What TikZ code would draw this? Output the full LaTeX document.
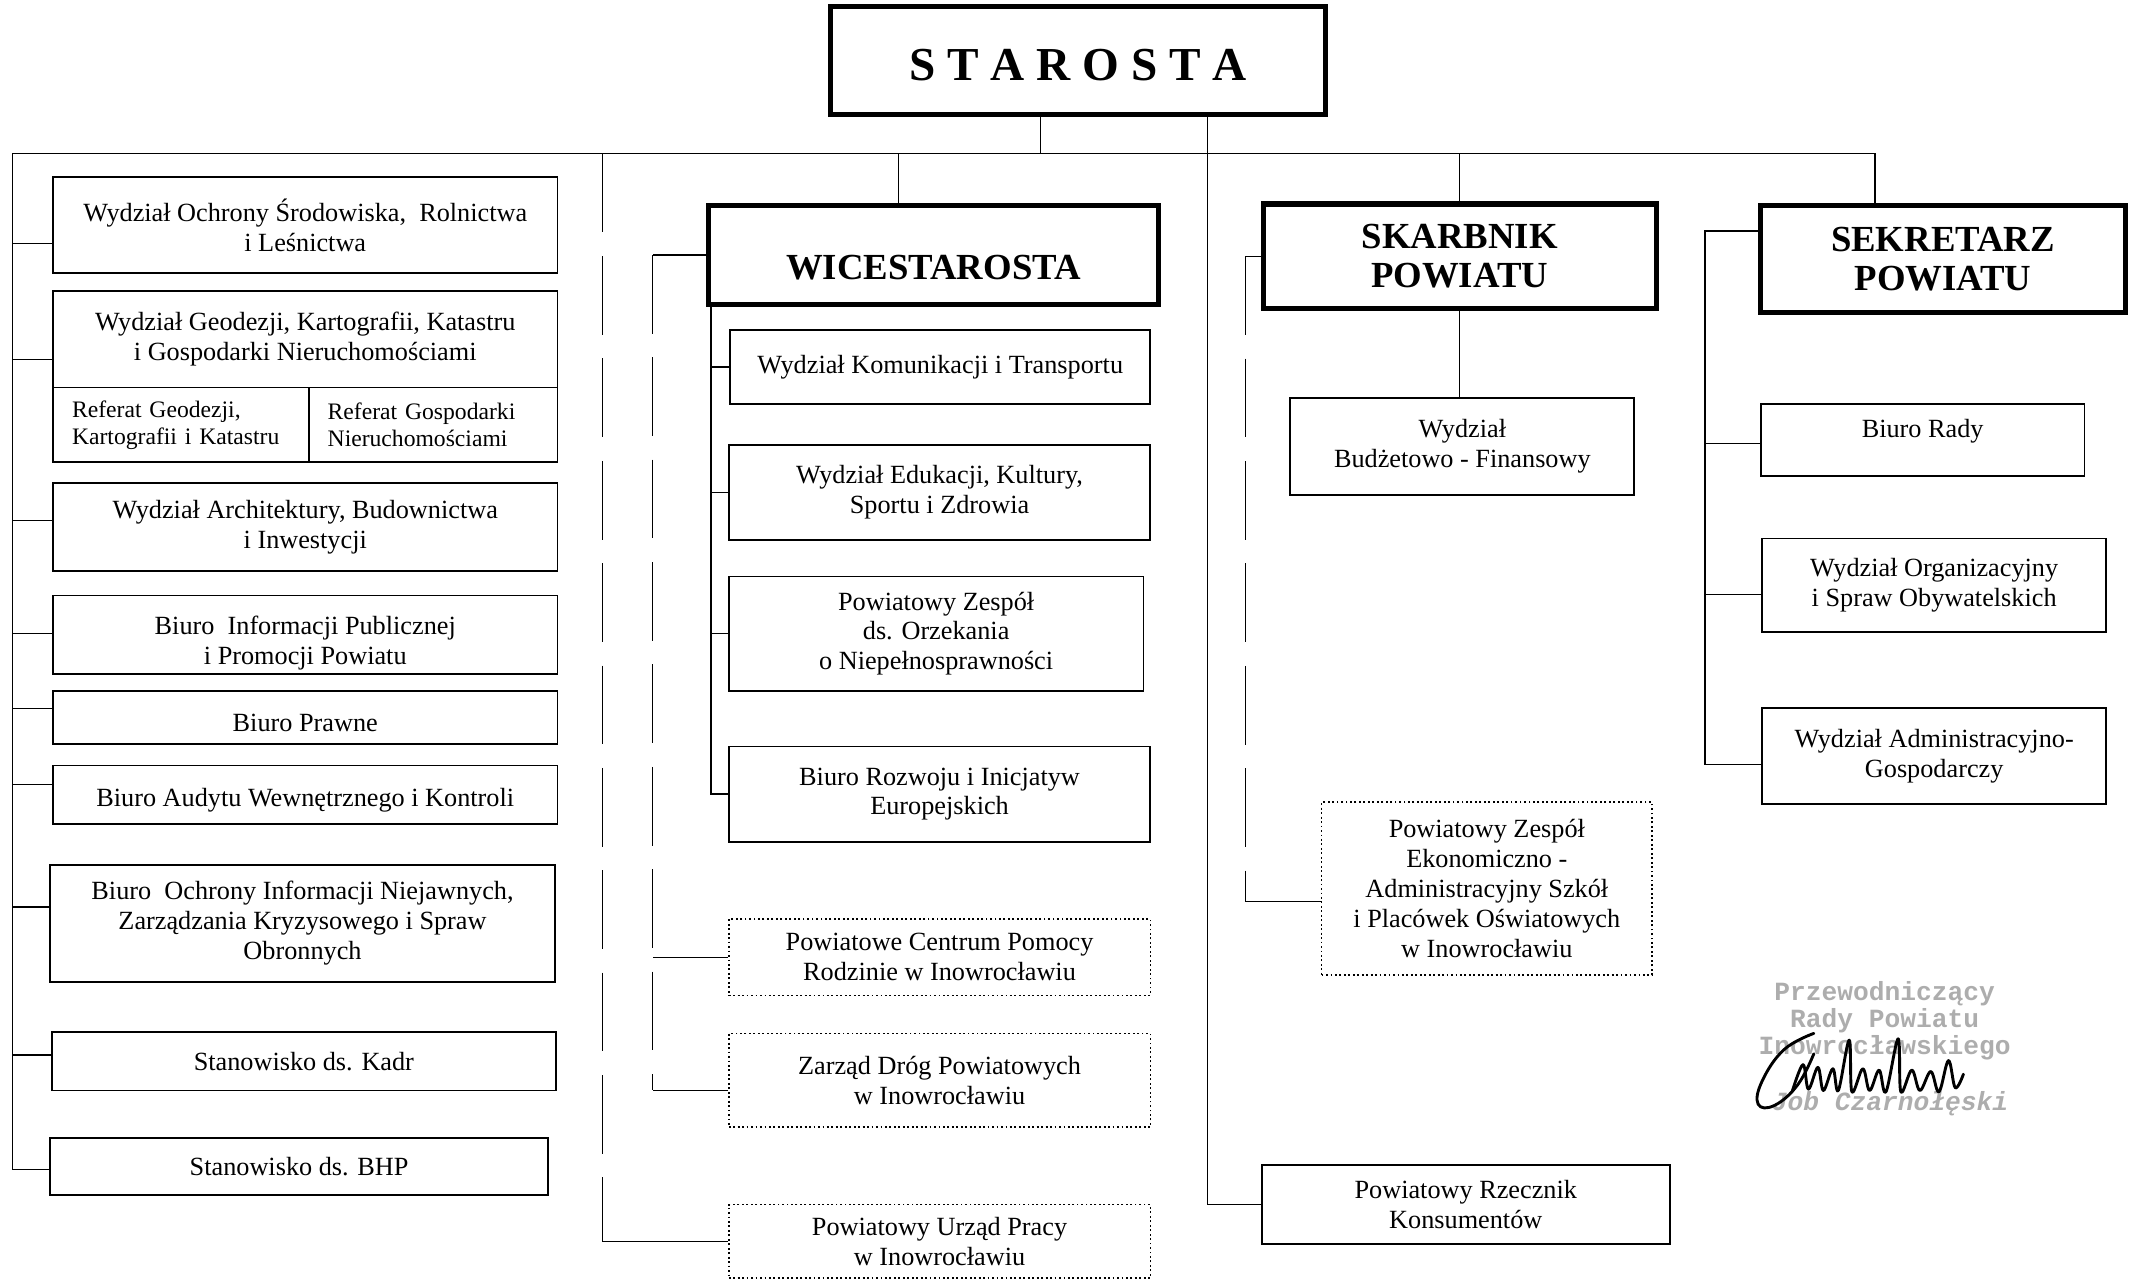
\documentclass[tikz,border=0pt]{standalone}
\usepackage{fontspec}
\setmainfont{Liberation Serif}
\newfontfamily\stampfont{Liberation Mono}
\usepackage{tikz}
\usetikzlibrary{positioning, calc}
\def\px{0.0182cm}
\tikzset{
  headbox/.style={rectangle, draw, line width=2pt, align=center,
                  font=\fontsize{14}{15}\selectfont\bfseries},
  unitbox/.style={rectangle, draw, line width=0.7pt, align=center, inner sep=2pt,
                  font=\fontsize{10}{11.4}\selectfont},
  dotbox/.style={unitbox, densely dotted, line width=0.6pt},
  refbox/.style={unitbox, align=left, inner xsep=14*\px, font=\fontsize{9}{10.3}\selectfont},
  boxtext/.style={align=center, inner sep=0pt, font=\fontsize{10}{11.4}\selectfont},
  link/.style={line width=0.5pt},
  duty/.style={line width=0.5pt, dash pattern=on 30pt off 9pt},
  stamptext/.style={align=center, inner sep=0pt, text=black!32,
                    font=\stampfont\bfseries\fontsize{10}{8.8}\selectfont},
  signline/.style={line width=1.1pt, line cap=round, line join=round},
}
\begin{document}
\begin{tikzpicture}[x=\px, y=-\px]
  \useasboundingbox (0,0) rectangle (1568,942);

  % --- Heads ---
  \node[headbox, minimum width=364*\px, minimum height=79*\px,
        font=\fontsize{18}{20}\selectfont\bfseries] (staro) at (793,44.5) {\raisebox{-7.7pt}[0pt][0pt]{S T A R O S T A}};
  \node[headbox, minimum width=331*\px, minimum height=73*\px] (wice)  at (686.5,187.5) {\raisebox{-9.5pt}[0pt][0pt]{WICESTAROSTA}};
  \node[headbox, minimum width=289*\px, minimum height=77*\px] (skarb) at (1073.5,188.5) {SKARBNIK\\POWIATU};
  \node[headbox, minimum width=268*\px, minimum height=79*\px] (sekr)  at (1429,190.5) {SEKRETARZ\\POWIATU};

  % --- Left column (Starosta) ---
  \node[unitbox, minimum width=371*\px, minimum height=71*\px] (osr) at (224.5,165.5)
        {Wydział Ochrony Środowiska, \ Rolnictwa\\i Leśnictwa};
  \node[unitbox, minimum width=371*\px, minimum height=71*\px] (geo) at (224.5,249.5)
        {Wydział Geodezji, Kartografii, Katastru\\i Gospodarki Nieruchomościami};
  \node[refbox, minimum width=188*\px, minimum height=55*\px, text width=160*\px] (refgeo)  at (133,312.5)   {Referat Geodezji,\\Kartografii i Katastru};
  \node[refbox, minimum width=183*\px, minimum height=55*\px, text width=155*\px] (refnier) at (318.5,312.5) {Referat Gospodarki\\Nieruchomościami};
  \node[unitbox, minimum width=371*\px, minimum height=65*\px] (arch) at (224.5,387.5)
        {Wydział Architektury, Budownictwa\\i Inwestycji};
  \node[unitbox, minimum width=371*\px, minimum height=58*\px] (info) at (224.5,467) {};
  \node[boxtext] (infotxt) at ([yshift=-3pt]info.center) {Biuro \ Informacji Publicznej\\i Promocji Powiatu};
  \node[unitbox, minimum width=371*\px, minimum height=39*\px] (prawne) at (224.5,527.5) {\raisebox{-5.3pt}[0pt][0pt]{Biuro Prawne}};
  \node[unitbox, minimum width=371*\px, minimum height=43*\px] (audyt)  at (224.5,584.5) {\raisebox{-4.3pt}[0pt][0pt]{Biuro Audytu Wewnętrznego i Kontroli}};
  \node[unitbox, minimum width=371*\px, minimum height=86*\px] (niejaw) at (222.5,679)
        {Biuro \ Ochrony Informacji Niejawnych,\\Zarządzania Kryzysowego i Spraw\\Obronnych};
  \node[unitbox, minimum width=371*\px, minimum height=43*\px] (kadr) at (223.5,780.5) {Stanowisko ds. Kadr};
  \node[unitbox, minimum width=366*\px, minimum height=42*\px] (bhp)  at (220,858)     {Stanowisko ds. BHP};

  % --- Middle column (Wicestarosta) ---
  \node[unitbox, minimum width=309*\px, minimum height=54*\px] (komun)  at (691.5,270) {Wydział Komunikacji i Transportu};
  \node[unitbox, minimum width=310*\px, minimum height=70*\px] (eduk)   at (691,362)   {Wydział Edukacji, Kultury,\\Sportu i Zdrowia};
  \node[unitbox, minimum width=305*\px, minimum height=84*\px] (orzek)  at (688.5,466) {Powiatowy Zespół\\ds. Orzekania\\o Niepełnosprawności};
  \node[unitbox, minimum width=310*\px, minimum height=70*\px] (rozwoj) at (691,584)   {Biuro Rozwoju i Inicjatyw\\Europejskich};
  \node[dotbox,  minimum width=310*\px, minimum height=56*\px] (pcpr)   at (691,704)   {Powiatowe Centrum Pomocy\\Rodzinie w Inowrocławiu};
  \node[dotbox,  minimum width=310*\px, minimum height=69*\px] (zdp)    at (691,794.5) {Zarząd Dróg Powiatowych\\w Inowrocławiu};
  \node[dotbox,  minimum width=310*\px, minimum height=54*\px] (pup)    at (691,913)   {Powiatowy Urząd Pracy\\w Inowrocławiu};

  % --- Skarbnik ---
  \node[unitbox, minimum width=253*\px, minimum height=71*\px]  (budzet) at (1075.5,328.5) {Wydział\\Budżetowo - Finansowy};
  \node[dotbox,  minimum width=243*\px, minimum height=127*\px] (pzeas)  at (1093.5,653.5)
        {Powiatowy Zespół\\Ekonomiczno -\\Administracyjny Szkół\\i Placówek Oświatowych\\w Inowrocławiu};
  \node[unitbox, minimum width=300*\px, minimum height=58*\px]  (rzecz)  at (1078,886) {Powiatowy Rzecznik\\Konsumentów};

  % --- Sekretarz ---
  \node[unitbox, minimum width=238*\px, minimum height=53*\px] (rady) at (1414,323.5) {\raisebox{0.9pt}[0pt][0pt]{Biuro Rady}};
  \node[unitbox, minimum width=253*\px, minimum height=69*\px] (org)  at (1422.5,430.5) {Wydział Organizacyjny\\i Spraw Obywatelskich};
  \node[unitbox, minimum width=253*\px, minimum height=70*\px] (adm)  at (1422.5,556) {Wydział Administracyjno-\\Gospodarczy};

  % --- Trunk ---
  \coordinate (busL)     at (9,113);
  \coordinate (busR)     at (1379,113);
  \coordinate (stDrop)   at (765,113);
  \coordinate (wcDrop)   at (661,113);
  \coordinate (stLine)   at (888,113);
  \coordinate (pupLine)  at (443,113);
  \coordinate (wcLeft)   at (480,187.5);
  \coordinate (wcBranch) at (523,224);
  \coordinate (skLeft)   at (916,188.5);
  \coordinate (seLeft)   at (1254,170);

  \draw[link] (busL) -- (busR) -- (busR |- sekr.north);
  \draw[link] (stDrop |- staro.south) -- (stDrop);
  \draw[link] (wcDrop) -- (wcDrop |- wice.north);
  \draw[link] (skarb.north) -- (skarb.north |- busL);
  \draw[link] (stLine |- staro.south) |- (rzecz.west);

  % left branches
  \draw[link] (busL) |- ([yshift=-2*\px]bhp.west);
  \foreach \n/\d in {osr/-13.5, geo/-15, arch/4.5, info/1, prawne/6.5, audyt/7.5, niejaw/12, kadr/4.5}{
    \path ([yshift=\d*\px]\n.west) coordinate (lk);
    \draw[link] (lk) -- (lk -| busL);
  }

  % wicestarosta branches
  \draw[link] (wcBranch |- wice.south) |- (rozwoj.west);
  \foreach \n in {komun, eduk, orzek}{
    \draw[link] (\n.west) -- (\n.west -| wcBranch);
  }
  \draw[link] (wice.west) -- (wcLeft);
  \path ([yshift=-7.5*\px]zdp.west) coordinate (zdpIn);
  \draw[duty] (wcLeft) -- (wcLeft |- zdpIn);
  \draw[link] (zdpIn) -- (zdpIn -| wcLeft);
  \draw[link] (pcpr.west) -- (pcpr.west -| wcLeft);
  \draw[duty] (pupLine) -- (pupLine |- pup.west);
  \draw[link] (pup.west) -- (pup.west -| pupLine);

  % skarbnik branches
  \draw[link] (skarb.south) -- (skarb.south |- budzet.north);
  \draw[link] (skarb.west) -- (skLeft);
  \path ([yshift=-9.5*\px]pzeas.west) coordinate (pzIn);
  \draw[duty] (skLeft) -- (skLeft |- pzIn);
  \draw[link] (pzIn) -- (pzIn -| skLeft);

  % sekretarz branches
  \path ([yshift=20.5*\px]sekr.west) coordinate (seOut);
  \draw[link] (seOut) -- (seOut -| seLeft) |- ([yshift=-6*\px]adm.west);
  \foreach \n/\d in {rady/-2.5, org/-6.5}{
    \path ([yshift=\d*\px]\n.west) coordinate (lk);
    \draw[link] (lk) -- (lk -| seLeft);
  }

  % --- Stamp ---
  \node[stamptext] (stamp) at (1386,751) {Przewodniczący\\Rady Powiatu\\Inowrocławskiego};
  \node[stamptext, font=\stampfont\bfseries\itshape\fontsize{10}{10}\selectfont] (stampname) at (1390,812) {Job Czarnołęski};
  \draw[signline] plot[smooth, tension=0.7] coordinates
    {(1334,760) (1312,772) (1296,795) (1293,812) (1305,813) (1322,798) (1334,775)};
  \draw[signline] plot[smooth, tension=0.6] coordinates
    {(1318,803) (1326,783) (1330,801) (1337,785) (1341,802) (1348,786) (1352,802)
     (1360,765) (1362,803) (1370,786) (1375,802) (1382,787) (1387,803) (1396,764)
     (1398,803) (1406,787) (1412,802) (1420,788) (1426,803) (1433,780) (1438,800) (1444,790)};
\end{tikzpicture}
\end{document}
